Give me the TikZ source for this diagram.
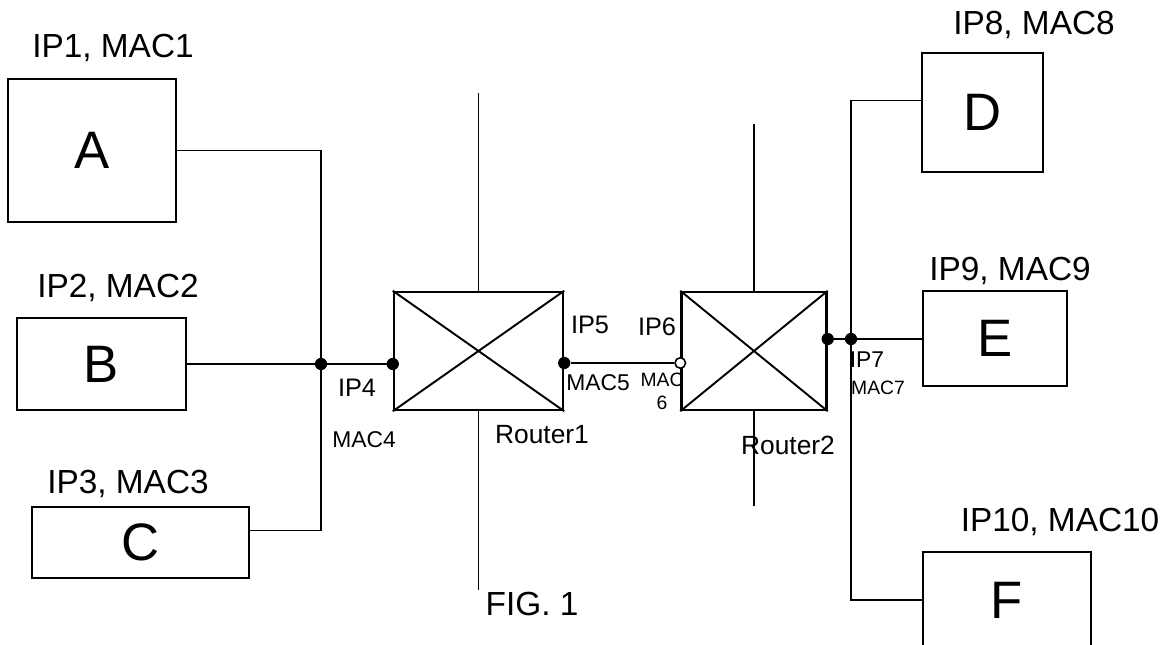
\documentclass[tikz,border=0pt]{standalone}
\usepackage{fontspec}
\setmainfont{Liberation Sans}
\usetikzlibrary{positioning,calc}

\begin{document}
\begin{tikzpicture}[
    x=0.02cm, y=-0.02cm,
    line width=1.1pt,
    host/.style={draw, line width=1.2pt, inner sep=0pt, font=\fontsize{30}{34}\selectfont},
    router/.style={draw, line width=1.4pt, inner sep=0pt},
    addr/.style={font=\fontsize{19}{22}\selectfont},
    iplbl/.style={font=\Large},
    maclbl/.style={font=\fontsize{13}{15}\selectfont},
    tiny/.style={font=\fontsize{11}{13}\selectfont, align=center},
    rlbl/.style={font=\fontsize{15}{18}\selectfont},
    dot/.style={circle, fill, inner sep=0pt, minimum size=7pt},
    odot/.style={circle, draw, fill=white, inner sep=0pt, minimum size=6pt, line width=0.9pt},
]
\clip (0,0) rectangle (1172,645);

% hosts
\node[host, minimum width=3.36cm, minimum height=2.86cm] (A) at (92,150.5) {A};
\node[host, minimum width=3.38cm, minimum height=1.84cm] (B) at (101.5,364) {B};
\node[host, minimum width=4.34cm, minimum height=1.42cm] (C) at (140.5,542.5) {C};
\node[host, minimum width=2.42cm, minimum height=2.38cm] (D) at (982.5,112.5) {D};
\node[host, minimum width=2.88cm, minimum height=1.9cm] (E) at (995,338.5) {E};
\node[host, minimum width=3.36cm, minimum height=1.92cm] (F) at (1007,600) {F};

% routers
\node[router, minimum width=3.38cm, minimum height=2.36cm] (R1) at (478.5,351) {};
\node[router, minimum width=2.9cm, minimum height=2.36cm] (R2) at (754,351) {};
\draw (R1.north west) -- (R1.south east) (R1.south west) -- (R1.north east);
\draw (R2.north west) -- (R2.south east) (R2.south west) -- (R2.north east);
\draw (R1.north) -- ++(0,-198) (R1.south) -- ++(0,179);
\draw (R2.north) -- ++(0,-167) (R2.south) -- ++(0,95);

% ports and junctions
\node[dot] (j1) at (321,364) {};
\node[dot] (p4) at ($(R1.west)+(0,13)$) {};
\node[dot] (p5) at ($(R1.east)+(0,12)$) {};
\node[odot] (p6) at ($(R2.west)+(0,12)$) {};
\node[dot] (p7) at ($(R2.east)+(0,-12)$) {};
\node[dot] (j2) at (851,339) {};
\coordinate (cport) at ($(C.east)+(0,-12)$);
\coordinate (dport) at ($(D.west)+(0,-12)$);

\draw (A.east) -| (j1.center) |- (cport);
\draw (B.east) -- (p4.center);
\draw (p5) -- (p6);
\draw (p7.center) -- (p7 -| E.west);
\draw (dport) -| (j2.center) |- (F.west);

% addresses
\node[addr] (adA) at (113,48) {IP1, MAC1};
\node[addr] (adB) at (118,288) {IP2, MAC2};
\node[addr] (adC) at (128,484) {IP3, MAC3};
\node[addr] (adD) at (1034,25) {IP8, MAC8};
\node[addr] (adE) at (1010,271) {IP9, MAC9};
\node[addr] (adF) at (1060,522) {IP10, MAC10};

\node[iplbl] (ip4) at (357,388) {IP4};
\node[maclbl] (mac4) at (364,440) {MAC4};
\node[iplbl] (ip5) at (590,325) {IP5};
\node[maclbl] (mac5) at (598,383) {MAC5};
\node[iplbl] (ip6) at (657,327) {IP6};
\node[tiny] (mac6) at (662,391) {MAC\\6};
\node[maclbl] (ip7) at (867,360) {IP7};
\node[tiny] (mac7) at (878,388) {MAC7};

\node[rlbl] (r1lbl) at (542,435) {Router1};
\node[rlbl] (r2lbl) at (788,445) {Router2};
\node[addr] (fig) at (532,604) {FIG. 1};
\end{tikzpicture}
\end{document}
